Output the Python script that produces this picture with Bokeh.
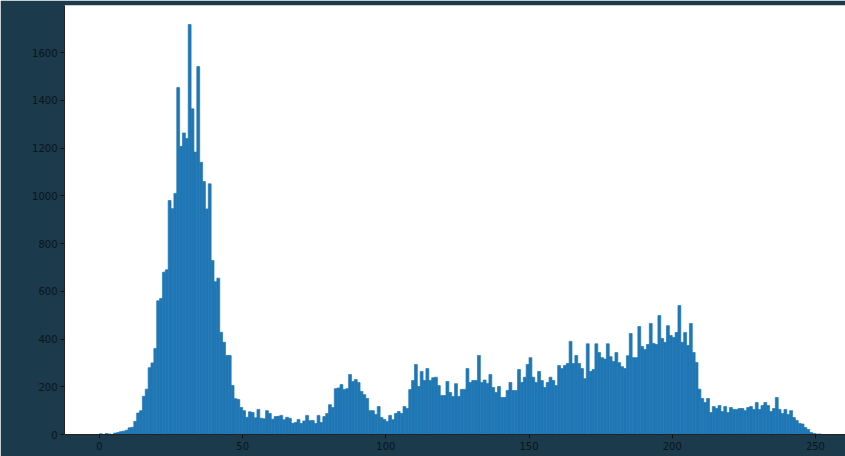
from bokeh.plotting import figure
from bokeh.models import ColumnDataSource, Range1d, FixedTicker
from bokeh.embed import file_html
from bokeh.resources import INLINE

# Histogram counts for pixel values 0..255
counts = [
    3, 0, 4, 2, 0, 6, 8, 12, 14, 18,            # 0-9
    28, 30, 55, 90, 100, 160, 190, 280, 300, 360,  # 10-19
    560, 570, 680, 690, 980, 946, 1010, 1453, 1207, 1263,  # 20-29
    1240, 1717, 1364, 1183, 1541, 1140, 1060, 945, 1050, 729,  # 30-39
    640, 655, 428, 386, 331, 331, 205, 150, 147, 113,  # 40-49
    100, 72, 95, 92, 70, 105, 68, 66, 100, 88,   # 50-59
    64, 75, 76, 80, 62, 72, 68, 47, 50, 63,      # 60-69
    46, 57, 80, 58, 59, 46, 80, 50, 75, 88,      # 70-79
    125, 113, 192, 195, 209, 188, 192, 251, 222, 230,  # 80-89
    218, 180, 167, 151, 100, 100, 84, 117, 71, 63,  # 90-99
    54, 80, 62, 88, 96, 88, 117, 109, 188, 226,  # 100-109
    293, 201, 264, 226, 276, 226, 238, 240, 205, 163,  # 110-119
    163, 222, 176, 159, 213, 159, 189, 189, 276, 218,  # 120-129
    226, 226, 331, 218, 228, 214, 251, 197, 176, 201,  # 130-139
    155, 155, 184, 218, 184, 184, 272, 218, 240, 293,  # 140-149
    322, 240, 218, 264, 226, 197, 218, 240, 226, 205,  # 150-159
    289, 276, 289, 297, 390, 297, 331, 297, 276, 234,  # 160-169
    380, 264, 272, 380, 343, 322, 316, 380, 326, 306,  # 170-179
    343, 301, 284, 276, 330, 423, 322, 322, 452, 369,  # 180-189
    356, 377, 465, 381, 377, 498, 402, 386, 456, 415,  # 190-199
    406, 427, 540, 386, 427, 373, 465, 344, 302, 190,  # 200-209
    151, 134, 151, 92, 117, 109, 121, 96, 117, 92,  # 210-219
    113, 105, 105, 109, 109, 100, 113, 117, 105, 134,  # 220-229
    105, 121, 134, 121, 96, 109, 155, 105, 88, 105,  # 230-239
    84, 100, 71, 59, 46, 44, 29, 21, 8, 4,       # 240-249
    2, 2, 0, 0, 0, 0,                            # 250-255
]
bin_edges = list(range(0, 257))
x_ticks = [0, 50, 100, 150, 200, 250]
y_ticks = [0, 200, 400, 600, 800, 1000, 1200, 1400, 1600]

src = ColumnDataSource(dict(left=bin_edges[:-1], right=bin_edges[1:],
                            top=counts, bottom=[0] * len(counts)))

BG = "#1b3a4b"
BAR = "#1f77b4"
p = figure(width=845, height=456, output_backend="svg", toolbar_location=None,
           x_range=Range1d(-12.2, 260.5), y_range=Range1d(0, 1797),
           min_border_left=64, min_border_right=0, min_border_top=5, min_border_bottom=22)
p.background_fill_color = "white"
p.border_fill_color = BG
p.outline_line_color = None
p.xgrid.visible = False
p.ygrid.visible = False

p.quad(left="left", right="right", top="top", bottom="bottom", source=src,
       fill_color=BAR, line_color=BAR, line_width=0.7)

for ax in (p.xaxis[0], p.yaxis[0]):
    ax.axis_line_color = "#222222"
    ax.major_tick_line_color = "#111111"
    ax.minor_tick_line_color = None
    ax.major_tick_out = 4
    ax.major_tick_in = 0
    ax.major_label_text_color = "#0a141a"
    ax.major_label_text_font = "DejaVu Sans"
    ax.major_label_text_font_size = "10px"
    ax.major_label_standoff = 3
p.xaxis[0].ticker = FixedTicker(ticks=x_ticks)
p.yaxis[0].ticker = FixedTicker(ticks=y_ticks)

open("out.html", "w").write(file_html(p, INLINE))
